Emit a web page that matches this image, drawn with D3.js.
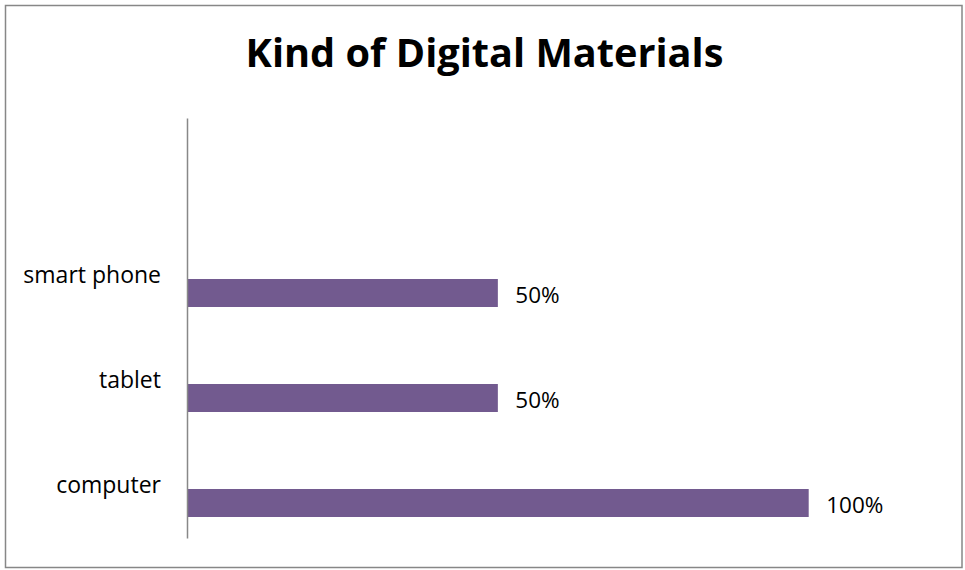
<!DOCTYPE html>
<html>
<head>
<meta charset="utf-8">
<script src="https://cdn.jsdelivr.net/npm/d3@7"></script>
<style>
  html, body { margin: 0; padding: 0; background: #fff; }
  svg { display: block; }
</style>
</head>
<body>
<svg id="chart" width="965" height="570"></svg>
<script>
const title = "Kind of Digital Materials";
const categories = ["smart phone", "tablet", "computer"];
const values = [0.5, 0.5, 1.0];
const valueLabels = ["50%", "50%", "100%"];

const svg = d3.select("#chart");
const FONT = "'Open Sans', sans-serif";

// outer border
svg.append("rect")
  .attr("x", 5.5).attr("y", 5.5)
  .attr("width", 956.5).attr("height", 562)
  .attr("fill", "#fff")
  .attr("stroke", "#878787")
  .attr("stroke-width", 1.5);

// title
svg.append("text")
  .attr("x", 484.5).attr("y", 67)
  .attr("text-anchor", "middle")
  .attr("font-family", FONT)
  .attr("font-weight", "bold")
  .attr("font-size", 39.7)
  .attr("fill", "#000")
  .text(title);

const plot = { left: 187, top: 118, bottom: 538 };

// band scale: one empty top slot + the three categories (Excel-style layout)
const y = d3.scaleBand()
  .domain(["", ...categories])
  .range([plot.top, plot.bottom]);

// sub-band: the visible bar sits in the lower slot of each band
const sub = d3.scaleBand()
  .domain(["hidden", "shown"])
  .range([0, y.bandwidth()])
  .paddingInner(0.2)
  .paddingOuter(0.6);

const x = d3.scaleLinear().domain([0, 1]).range([plot.left, 808.7]);

const data = categories.map((c, i) => ({ c, v: values[i], label: valueLabels[i] }));

// bars
svg.append("g").selectAll("rect")
  .data(data)
  .join("rect")
  .attr("x", x(0))
  .attr("y", d => y(d.c) + sub("shown"))
  .attr("width", d => x(d.v) - x(0))
  .attr("height", sub.bandwidth())
  .attr("fill", "#725a8f");

// value labels
svg.append("g").selectAll("text")
  .data(data)
  .join("text")
  .attr("x", d => x(d.v) + 17.5)
  .attr("y", d => y(d.c) + sub("shown") + sub.bandwidth() / 2)
  .attr("dy", "0.44em")
  .attr("font-family", FONT)
  .attr("font-size", 22.5)
  .attr("fill", "#000")
  .text(d => d.label);

// category axis
const axis = d3.axisLeft(y).tickSize(0).tickPadding(26);
const gAxis = svg.append("g")
  .attr("transform", `translate(${plot.left},0)`)
  .call(axis);
gAxis.select(".domain").attr("stroke", "#888").attr("stroke-width", 1.5);
gAxis.selectAll("text")
  .attr("font-family", FONT)
  .attr("font-size", 23)
  .attr("fill", "#000")
  .attr("dy", "0.32em");
</script>
</body>
</html>
